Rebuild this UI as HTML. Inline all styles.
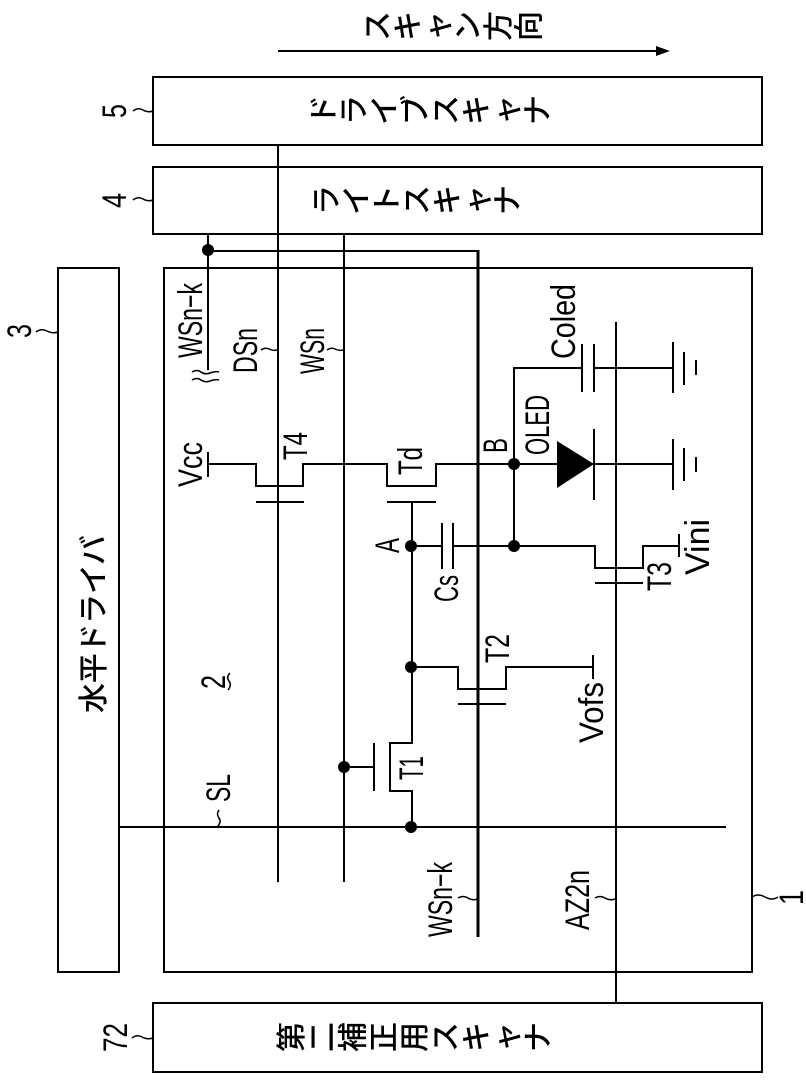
<!DOCTYPE html>
<html><head><meta charset="utf-8">
<style>
html,body{margin:0;padding:0;background:#fff}
svg{display:block}
text{font-family:"Liberation Sans","Noto Sans CJK JP",sans-serif;fill:#000}
.j{font-family:"Liberation Sans","Noto Sans CJK JP",sans-serif;font-size:30px;font-weight:500}
.l{font-size:34px}
.w{fill:none;stroke:#000;stroke-width:1.5}
</style></head><body>
<svg width="806" height="1087" viewBox="0 0 806 1087" xmlns="http://www.w3.org/2000/svg">
<g fill="none" stroke="#000" stroke-width="2">
<rect x="153" y="77" width="609" height="68"/>
<rect x="153" y="167" width="609" height="67"/>
<rect x="58" y="268" width="61" height="704"/>
<rect x="164" y="268" width="588" height="704"/>
<rect x="153" y="1003" width="609" height="69"/>
<path d="M278 51H660"/>
<path d="M278 145V882M344 234V882M208 234V370M208 251H478M119 827H726M616 322V1003"/>
<path d="M478 250V937" stroke-width="3"/>
<path d="M208 452V477M208 464H256V486H303V464H387V486H436V464H557"/>
<path d="M256 502H304M387 502H436M412 502V743H390V791H412V827"/>
<path d="M594 429V500M594 464H673M673 439V490M684 448V481M696 457V472"/>
<path d="M514 464V368H582M582 344V392M594 344V392M594 368H673M673 342V393M684 352V385M696 360V375"/>
<path d="M412 546H442M442 523V569M453 523V569M453 546H595V568H643V546H679M679 534V557M514 464V546M595 583H643"/>
<path d="M412 667H458V689H506V667H593M593 655V679M458 704H506"/>
<path d="M344 767H374M374 743V791"/>
</g>
<path d="M670 51L656 46V56Z" fill="#000"/>
<path d="M557 441L594 464L557 488Z" fill="#000"/>
<g fill="#000">
<circle cx="208" cy="250" r="6"/>
<circle cx="514" cy="464" r="6"/>
<circle cx="514" cy="546" r="6"/>
<circle cx="411" cy="546" r="6"/>
<circle cx="411" cy="667" r="6"/>
<circle cx="344" cy="767" r="6"/>
<circle cx="411" cy="827" r="6"/>
</g>
<path class="w" d="M133 111q5-4 10-1t10 1"/>
<path class="w" d="M133 200q5-4 10-1t10 1"/>
<path class="w" d="M36 332q5-4 11-1t11 1"/>
<path class="w" d="M132 1038q5-4 10-1t11 1"/>
<path class="w" d="M752 897q6-4 13 0t13 0"/>
<path class="w" d="M261 350q4-3 8-1t8 1"/>
<path class="w" d="M327 350q4-3 8-1t8 1"/>
<path class="w" d="M458 898q5-3 10 0t9 1"/>
<path class="w" d="M595 898q5-3 10 0t10 1"/>
<path class="w" d="M219 810q-3 4 0 8t-2 9"/>
<path class="w" d="M230 673q-4 4-1 8t-1 9"/>
<path class="w" d="M192 372q5-3 9 0t9 1t9-1M192 380q5-3 9 0t9 1t9-1" stroke-width="2"/>
<text class="j" rotate="-90 -90 -90 -90 -90 -90" x="388 418.5 448.5 478.5 509 539.5" y="41">スキャン方向</text>
<text class="j" rotate="-90 -90 -90 -90 -90 -90 -90 -90" x="334 364.5 395.2 425.8 456.5 487 517.5 548.2" y="125">ドライブスキャナ</text>
<text class="j" rotate="-90 -90 -90 -90 -90 -90 -90" x="337 367.2 397.5 427.5 457.8 488 518.2" y="215">ライトスキャナ</text>
<text class="j" rotate="-90 -90 -90 -90 -90 -90 -90 -90 -90" x="302 332.8 363.5 394.5 425.2 456 486.8 517.5 548.5" y="1052">第二補正用スキャナ</text>
<text class="j" transform="translate(104,713) rotate(-90)" textLength="178" lengthAdjust="spacing">水平ドライバ</text>
<text class="l" transform="translate(202,487) rotate(-90)" textLength="45" lengthAdjust="spacingAndGlyphs">Vcc</text>
<text class="l" transform="translate(202,358) rotate(-90)" textLength="75" lengthAdjust="spacingAndGlyphs">WSn−k</text>
<text class="l" transform="translate(257,373) rotate(-90)" textLength="45" lengthAdjust="spacingAndGlyphs">DSn</text>
<text class="l" transform="translate(324,374) rotate(-90)" textLength="46" lengthAdjust="spacingAndGlyphs">WSn</text>
<text class="l" transform="translate(307,460) rotate(-90)" textLength="28" lengthAdjust="spacingAndGlyphs">T4</text>
<text class="l" transform="translate(422,475) rotate(-90)" textLength="28" lengthAdjust="spacingAndGlyphs">Td</text>
<text class="l" transform="translate(399,553) rotate(-90)" textLength="15" lengthAdjust="spacingAndGlyphs">A</text>
<text class="l" transform="translate(507,453) rotate(-90)" textLength="15" lengthAdjust="spacingAndGlyphs">B</text>
<text class="l" transform="translate(549,455) rotate(-90)" textLength="60" lengthAdjust="spacingAndGlyphs">OLED</text>
<text class="l" transform="translate(575,359) rotate(-90)" textLength="75" lengthAdjust="spacingAndGlyphs">Coled</text>
<text class="l" transform="translate(458,602) rotate(-90)" textLength="27" lengthAdjust="spacingAndGlyphs">Cs</text>
<text class="l" transform="translate(671,591) rotate(-90)" textLength="29" lengthAdjust="spacingAndGlyphs">T3</text>
<text class="l" transform="translate(709,575) rotate(-90)" textLength="56" lengthAdjust="spacingAndGlyphs">Vini</text>
<text class="l" transform="translate(509,663) rotate(-90)" textLength="29" lengthAdjust="spacingAndGlyphs">T2</text>
<text class="l" transform="translate(603,743) rotate(-90)" textLength="61" lengthAdjust="spacingAndGlyphs">Vofs</text>
<text class="l" transform="translate(423,780) rotate(-90)" textLength="24" lengthAdjust="spacingAndGlyphs">T1</text>
<text class="l" transform="translate(230,802) rotate(-90)" textLength="28" lengthAdjust="spacingAndGlyphs">SL</text>
<text class="l" transform="translate(452,937) rotate(-90)" textLength="75" lengthAdjust="spacingAndGlyphs">WSn−k</text>
<text class="l" transform="translate(589,930) rotate(-90)" textLength="60" lengthAdjust="spacingAndGlyphs">AZ2n</text>
<text class="l" transform="translate(225,689) rotate(-90)" textLength="14" lengthAdjust="spacingAndGlyphs">2</text>
<text class="l" transform="translate(126,118) rotate(-90)" textLength="14" lengthAdjust="spacingAndGlyphs">5</text>
<text class="l" transform="translate(126,208) rotate(-90)" textLength="15" lengthAdjust="spacingAndGlyphs">4</text>
<text class="l" transform="translate(31,338) rotate(-90)" textLength="14" lengthAdjust="spacingAndGlyphs">3</text>
<text class="l" transform="translate(127,1052) rotate(-90)" textLength="29" lengthAdjust="spacingAndGlyphs">72</text>
<text class="l" transform="translate(803,905) rotate(-90)" textLength="15" lengthAdjust="spacingAndGlyphs">1</text>
</svg>
</body></html>
